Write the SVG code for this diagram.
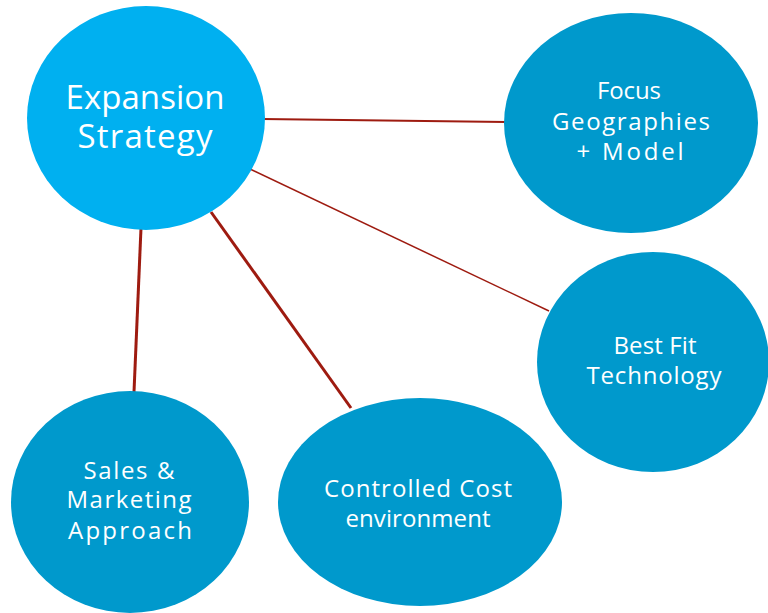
<svg xmlns="http://www.w3.org/2000/svg" width="768" height="613" viewBox="0 0 768 613">
  <style>
    .hub { fill: #00B0F0; }
    .node { fill: #0099CC; }
    .link { stroke: #9E1B10; fill: none; }
    text { fill: #FFFFFF; font-family: "Open Sans", "Liberation Sans", Arial, sans-serif; text-anchor: middle; }
    .big { font-size: 33px; }
    .small { font-size: 24px; }
  </style>
  <rect width="768" height="613" fill="#FFFFFF"/>

  <!-- connectors from the hub to each area -->
  <g id="connectors">
    <line class="link" x1="262" y1="119" x2="506" y2="122" stroke-width="2"/>
    <line class="link" x1="250" y1="169" x2="549" y2="311" stroke-width="1.5"/>
    <line class="link" x1="211" y1="212" x2="351" y2="408" stroke-width="3"/>
    <line class="link" x1="141" y1="228" x2="134" y2="392" stroke-width="3"/>
  </g>

  <g id="expansion-strategy">
    <ellipse class="hub" cx="146" cy="118" rx="119" ry="112"/>
    <text class="big" x="145" y="109" textLength="159" lengthAdjust="spacing">Expansion</text>
    <text class="big" x="145" y="148" textLength="135" lengthAdjust="spacing">Strategy</text>
  </g>

  <g id="focus-geographies">
    <ellipse class="node" cx="631" cy="123" rx="127" ry="110"/>
    <text class="small" x="629" y="99" textLength="64" lengthAdjust="spacing">Focus</text>
    <text class="small" x="631" y="130" textLength="158" lengthAdjust="spacing">Geographies</text>
    <text class="small" x="630" y="160" textLength="107" lengthAdjust="spacing">+ Model</text>
  </g>

  <g id="best-fit-technology">
    <ellipse class="node" cx="653" cy="362" rx="116" ry="110"/>
    <text class="small" x="655" y="354" textLength="83" lengthAdjust="spacing">Best Fit</text>
    <text class="small" x="654" y="384" textLength="135" lengthAdjust="spacing">Technology</text>
  </g>

  <g id="sales-marketing">
    <ellipse class="node" cx="130" cy="502" rx="119" ry="111"/>
    <text class="small" x="129" y="479" textLength="91" lengthAdjust="spacing">Sales &amp;</text>
    <text class="small" x="129" y="508" textLength="125" lengthAdjust="spacing">Marketing</text>
    <text class="small" x="130" y="539" textLength="124" lengthAdjust="spacing">Approach</text>
  </g>

  <g id="controlled-cost">
    <ellipse class="node" cx="420" cy="502" rx="142" ry="104"/>
    <text class="small" x="418" y="497" textLength="188" lengthAdjust="spacing">Controlled Cost</text>
    <text class="small" x="418" y="527" textLength="145" lengthAdjust="spacing">environment</text>
  </g>
</svg>
